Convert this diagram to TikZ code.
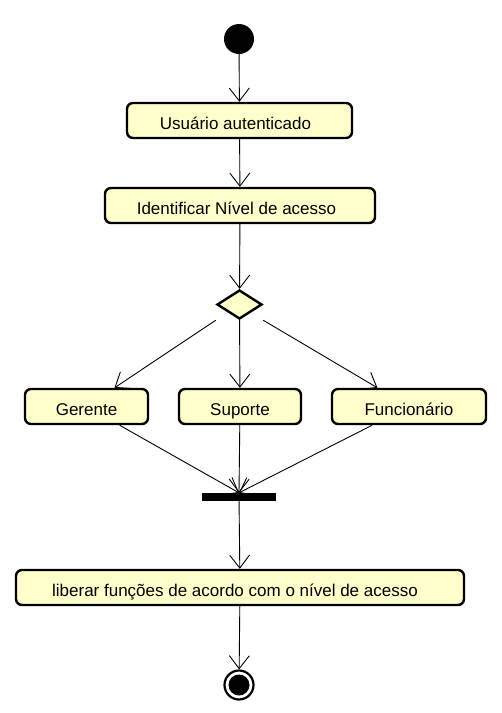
\documentclass[tikz,border=0pt]{standalone}
\usepackage{fontspec}
\setmainfont{Liberation Sans}
\usetikzlibrary{arrows.meta,shapes.geometric}
\definecolor{actfill}{RGB}{255,255,204}

\begin{document}
\begin{tikzpicture}[
  x=1pt,y=-1pt,
  font=\fontsize{17}{20}\selectfont,
  action/.style={draw,rounded corners=6pt,line width=2.4pt,fill=actfill,minimum height=35pt,inner sep=0pt,text height=17.5pt,text depth=0pt},
  decision/.style={draw,diamond,line width=2.4pt,fill=actfill,minimum width=45pt,minimum height=29pt,inner sep=0pt},
  initnode/.style={circle,fill=black,minimum size=30pt,inner sep=0pt},
  finalring/.style={circle,draw,line width=2.2pt,fill=white,minimum size=29pt,inner sep=0pt},
  finaldot/.style={circle,fill=black,minimum size=21pt,inner sep=0pt},
  joinbar/.style={fill=black,minimum width=74pt,minimum height=8pt,inner sep=0pt},
  flow/.style={-{Straight Barb[length=13pt,width=20pt]},line width=.9pt}
]
\useasboundingbox (0,0) rectangle (502,713);

\node[initnode] (start) at (239,39) {};
\node[action,minimum width=225pt] (usr) at (239.5,120.5) {Usuário autenticado\hspace*{8pt}};
\node[action,minimum width=270pt] (ident) at (240,205.5) {Identificar Nível de acesso\hspace*{7pt}};
\node[decision] (dec) at (239.5,304.5) {};

\node[action,minimum width=123pt] (ger) at (86.5,406.5) {Gerente};
\node[action,minimum width=122pt] (sup) at (240,406.5) {Suporte};
\node[action,minimum width=154pt] (func) at (409,406.5) {Funcionário};

\node[joinbar] (bar) at (239,497) {};
\node[action,minimum width=448pt] (lib) at (240,587.5) {liberar funções de acordo com o nível de acesso\hspace*{10pt}};

\node[finalring] (final) at (239,685) {};
\node[finaldot] (finaldot) at (final.center) {};

\draw[flow] (start) -- (usr);
\draw[flow] (usr) -- (ident);
\draw[flow] (ident) -- (dec);
\draw[flow] (dec.west |- dec.south) -- (ger);
\draw[flow] (dec) -- (sup);
\draw[flow] (dec.east |- dec.south) -- (func);
\draw[flow] (ger) -- (bar.north);
\draw[flow] (sup) -- (bar.north);
\draw[flow] (func) -- (bar.north);
\draw[flow] (bar) -- (lib);
\draw[flow] (lib) -- (final);
\end{tikzpicture}
\end{document}
